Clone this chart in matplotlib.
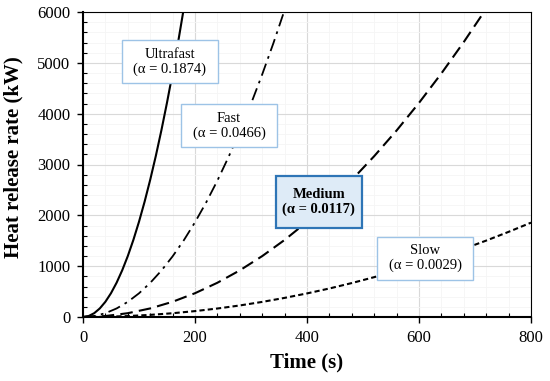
import matplotlib.pyplot as plt
from matplotlib.ticker import MultipleLocator

plt.rcParams['font.family'] = ['Liberation Serif', 'DejaVu Serif']

# heat release rate (kW)
t_ultra = [0, 10, 20, 30, 40, 50, 60, 70, 80, 90, 100, 110, 120, 130, 140, 150, 160, 170, 180]
q_ultra = [0, 18.7, 75, 168.7, 299.8, 468.5, 674.6, 918.3, 1199, 1518, 1874, 2268,
           2699, 3167, 3673, 4217, 4797, 5416, 6072]

t_fast = [0, 20, 40, 60, 80, 100, 120, 140, 160, 180, 200, 220, 240, 260, 280, 300, 320, 340, 360]
q_fast = [0, 18.6, 74.6, 168, 298, 466, 671, 913, 1193, 1509, 1864, 2255, 2684,
          3150, 3653, 4194, 4772, 5387, 6039]

t_med = [0, 40, 80, 120, 160, 200, 240, 280, 320, 360, 400, 440, 480, 520, 560, 600, 640, 680, 720]
q_med = [0, 18.7, 74.9, 168.5, 299.5, 468, 673.9, 917.3, 1198, 1516, 1872, 2265,
         2696, 3164, 3669, 4212, 4792, 5410, 6065]

t_slow = [0, 40, 80, 120, 160, 200, 240, 280, 320, 360, 400, 440, 480, 520, 560,
          600, 640, 680, 720, 760, 800]
q_slow = [0, 4.6, 18.6, 41.8, 74.2, 116, 167, 227, 297, 376, 464, 561, 668, 784,
          909, 1044, 1188, 1341, 1503, 1675, 1856]

fig = plt.figure(figsize=(5.5, 3.81), dpi=100)
ax = fig.add_axes([83 / 550, 1 - 317 / 381, 448 / 550, 305 / 381])

ax.plot(t_ultra, q_ultra, color='black', lw=1.5, ls='-')
ax.plot(t_fast, q_fast, color='black', lw=1.3, ls=(0, (7, 3, 1.5, 3)))
ax.plot(t_med, q_med, color='black', lw=1.5, ls=(0, (6, 3)))
ax.plot(t_slow, q_slow, color='black', lw=1.5, ls=(0, (2.5, 1.5)))

ax.set_xlim(0, 800)
ax.set_ylim(0, 6000)
ax.xaxis.set_major_locator(MultipleLocator(200))
ax.xaxis.set_minor_locator(MultipleLocator(40))
ax.yaxis.set_major_locator(MultipleLocator(1000))
ax.yaxis.set_minor_locator(MultipleLocator(200))
ax.grid(which='major', color='#d9d9d9', lw=0.8)
ax.grid(which='minor', color='#f5f5f5', lw=0.6)
ax.set_axisbelow(True)
ax.tick_params(which='major', direction='out', length=4, width=1, labelsize=12, pad=5)
ax.tick_params(which='minor', direction='in', length=3, width=0.8)
for s in ['left', 'bottom']:
    ax.spines[s].set_linewidth(1.5)
for s in ['top', 'right']:
    ax.spines[s].set_linewidth(0.8)

ax.set_xlabel('Time (s)', fontsize=15, fontweight='bold', labelpad=5)
ax.set_ylabel('Heat release rate (kW)', fontsize=15, fontweight='bold')
ax.yaxis.set_label_coords(-0.132, 0.523)

plain = dict(boxstyle='square,pad=0.8', fc='white', ec='#9dc3e6', lw=1.0)
boxes = []
boxes.append(ax.text(155, 5020, 'Ultrafast\n(α = 0.1874)', ha='center', va='center',
                     fontsize=10.5, bbox=plain, linespacing=1.15))
boxes.append(ax.text(261, 3760, 'Fast\n(α = 0.0466)', ha='center', va='center',
                     fontsize=10.5, bbox=plain, linespacing=1.15))
boxes.append(ax.text(611, 1161, 'Slow\n(α = 0.0029)', ha='center', va='center',
                     fontsize=10.5, bbox=plain, linespacing=1.15))
med = ax.text(421, 2264, 'Medium\n(α = 0.0117)', ha='center', va='center',
              fontsize=10.5, fontweight='bold', linespacing=1.15,
              bbox=dict(boxstyle='square,pad=0.45', fc='#deebf7', ec='#2e75b6', lw=1.6))
for b in boxes:
    b.get_bbox_patch().set_mutation_aspect(0.65)
med.get_bbox_patch().set_mutation_aspect(1.9)

fig.savefig('out.png', dpi=100)
